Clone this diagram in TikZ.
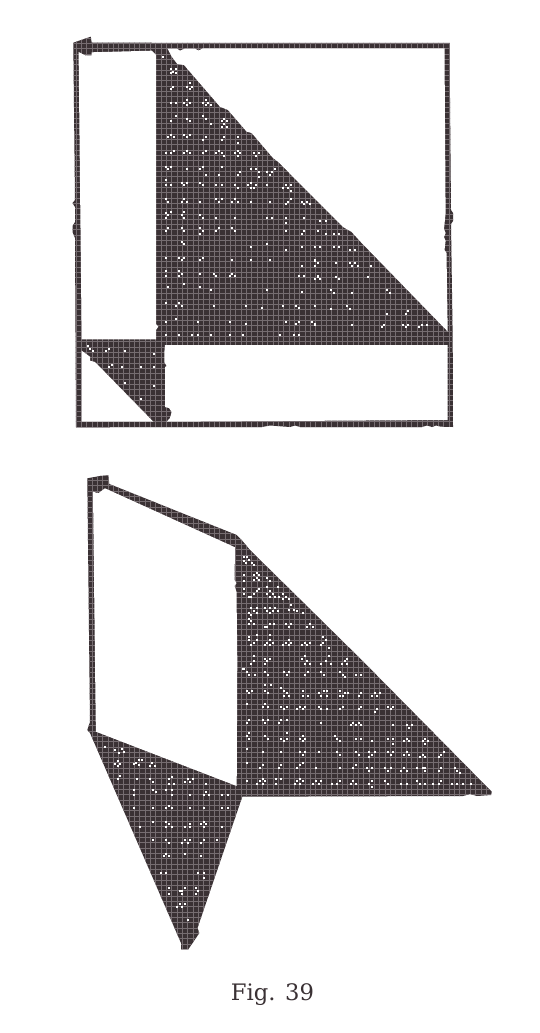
\documentclass[tikz,border=0pt]{standalone}
\usepackage{fontspec}
\setmainfont{DejaVu Serif}
\usepackage{xcolor}
\definecolor{inkdark}{RGB}{58, 49, 52}
\definecolor{inkgrid}{RGB}{118, 109, 113}
\usepackage{tikz}

\begin{document}
\begin{tikzpicture}[
    x=1pt, y=-1pt,
    inkfill/.style={fill=inkdark},
    gridline/.style={draw=inkgrid, line width=0.6pt, step=5.33pt},
    holefill/.style={fill=white},
    speck/.style={fill=white},
    speckcrop/.style n args={2}{shift={(#1,#2)}, x=0.3333pt, y=-0.3333pt},
    figlabel/.style={font=\fontsize{22.7}{24}\selectfont, text=inkdark, inner sep=0pt}
  ]
    \useasboundingbox (0,0) rectangle (540,1033);

    % upper figure
    \begin{scope}
    \clip (73.3,42.7) -- (90.7,36.7) -- (91.7,42.7) -- (449.5,43) -- (451,210) -- (453,213) -- (453,221) -- (451,224) -- (452.7,340) -- (453,427)
      -- (441,426.7) -- (436,425.5) -- (432,427) -- (427,425.5) -- (422,427) -- (300,427) -- (295,425.5) -- (290,427) -- (270,425.5) -- (262,427) -- (76,427.3)
      -- (75,238) -- (72.5,232) -- (72.5,226) -- (75,222) -- (75,207) -- (72.5,203) -- (75,200) -- cycle;
    \fill[inkfill] (60,30) rectangle (470,440);
    \draw[gridline, shift={(1.2,0.6)}] (60,30) grid (470,440);

    \foreach \x/\y in {39/21,
      63/58,77/58,70/65,63/70,77/70,
      70/110,63/118,119/100,111/110,127/110,119/118,
      63/158,79/158,111/150,103/158,119/158,111/166,159/158,167/150,175/158,183/166,167/166,
      79/198,63/214,111/206,119/214,159/198,167/206,183/222,223/206,215/214,231/214,215/230,231/230,223/222,
      55/262,63/254,71/262,103/254,119/254,111/262,167/262,159/270,223/262,215/270,263/262,263/278,
      47/310,63/310,71/302,103/310,111/302,119/310,159/310,167/302,199/310,207/302,215/310,223/318,255/310,263/302,271/310,263/318,311/310,327/310,319/318,
      47/350,55/358,63/350,111/358,151/358,159/350,167/374,215/350,207/374,263/374,271/366,303/358,319/358,327/366,327/382,351/366,359/374,367/366,375/358,
      47/390,47/406,63/406,95/398,111/398,103/406,151/398,159/406,199/406,215/406,255/406,263/414,303/398,295/406,311/414,303/414,319/406,351/406,399/414,407/406,423/406,415/414,423/422}
      \fill[speck, speckcrop={150}{50}] (\x,\y) +(-3.4,-3.4) rectangle +(3.4,3.4);

    \foreach \x/\y in {47/12,55/20,95/20,103/12,111/20,151/20,199/12,207/20,215/12,247/20,255/12,263/20,303/20,359/20,407/28,415/20,423/12,455/20,463/28,471/20,479/28,
      47/54,63/52,55/60,47/68,95/60,103/52,103/68,151/60,159/68,199/68,255/68,351/68,367/68,407/68,463/68,407/84,
      47/108,55/100,95/100,103/108,151/100,159/108,151/116,199/108,207/100,247/100,255/108,407/108,463/108,455/116,503/108,
      95/140,103/148,303/156,351/148,407/164,455/156,495/156,
      47/188,87/188,103/188,95/196,151/196,159/188,247/196,303/196,359/196,495/196,503/204,495/212,455/212,
      47/228,47/244,87/228,95/236,87/244,151/236,191/236,199/244,239/244,247/236,255/244,447/244,463/244,495/252,503/244,
      55/276,103/268,151/276,183/284,351/284,455/292,
      47/324,79/332,87/324,95/332,191/332,287/332,335/340,399/332,439/332,447/340,495/332,
      79/372,47/380,143/380,239/380,287/388,407/380,447/380,439/388,487/380,495/388,
      47/420,87/420,127/420,143/420,183/420,239/420,279/420,391/420,431/420,447/420}
      \fill[speck, speckcrop={150}{195}] (\x,\y) +(-3.4,-3.4) rectangle +(3.4,3.4);

    \foreach \x/\y in {31/122,47/122,23/154,47/162,71/162,87/162,15/202,31/202,71/202,87/202,119/210,135/210,
      15/242,23/250,15/258,79/250,119/250,135/250,127/258,143/258,183/258,
      23/290,15/298,31/298,79/290,87/298,175/290,
      63/330,71/338,127/338,231/330,239/338,
      15/378,63/386,111/378,119/386,231/402,295/394,287/402,
      7/426,15/434,127/434,223/434,215/442,279/434,295/434,287/442,335/434,351/434,327/442}
      \fill[speck, speckcrop={310}{180}] (\x,\y) +(-3.4,-3.4) rectangle +(3.4,3.4);

    \foreach \x/\y in {83/78,91/86,99/94,139/94,147/86,195/94,283/102,147/142,155/134,187/142,243/142,283/142,195/190,283/198,243/238}
      \fill[speck, speckcrop={60}{320}] (\x,\y) +(-3.4,-3.4) rectangle +(3.4,3.4);
    \end{scope}

    % openings of the upper figure
    \fill[holefill] (78.6,52) -- (85,55.3) -- (91.7,55.3) -- (91.7,52.3) -- (151.7,50.7) -- (156,55) -- (156,324) -- (158.3,326.7) -- (156,330) -- (156,339.3) -- (81.7,339.3) -- cycle;
    \fill[holefill] (167.5,48.6) -- (177,48.6) -- (180,50.6) -- (185,48.6) -- (195,48.6) -- (198.5,50.6) -- (203,48.3) -- (444.5,48.3) -- (445.6,213) -- (444,229) -- (445.6,233) -- (444,237) -- (445.6,241) -- (444.5,250) -- (446.5,253) -- (447.7,331.5)
      -- (361.7,243) -- (351.7,232) -- (343,227) -- (278,161.7) -- (273,158) -- (251.7,133) -- (246.7,131.7) -- (228,110) -- (220,106.7) -- (184,65) -- (177.3,64) -- (172,57) -- cycle;
    \fill[holefill] (165,345) -- (447.7,345) -- (447.7,420) -- (166.7,421.7) -- (170,418) -- (171.7,412) -- (169,408) -- (165,407) -- (165,367) -- (166.7,366) -- (164.3,362) -- (164.3,353) -- cycle;
    \fill[holefill] (81.7,350.7) -- (90,356.7) -- (90,360.7) -- (95,362) -- (153.3,421.7) -- (81.7,421.7) -- cycle;

    % lower figure
    \begin{scope}
    \clip (87.3,478.3) -- (100,476) -- (108.3,475.3) -- (109.3,484) -- (236.7,535) -- (241.7,540) -- (246.7,546) -- (250,550) -- (361.7,660) -- (491.7,791.7) -- (491,795) -- (477,796) -- (470,794) -- (463,796) -- (242.3,796.7)
      -- (197.5,928) -- (199.3,933) -- (196,938) -- (188.3,949.3) -- (181,949.3) -- (181,943) -- (90,733) -- (87.3,730) -- (90,722) -- cycle;
    \fill[inkfill] (70,460) rectangle (510,960);
    \draw[gridline, shift={(1.2,0.6)}] (70,460) grid (510,960);

    \foreach \x/\y in {58/50,66/50,56/62,72/60,64/70,80/68,88/75,
      95/98,87/106,103/106,95/114,87/120,103/120,57/106,57/124,127/114,135/124,
      57/146,57/162,103/146,95/154,87/162,79/170,71/170,127/140,159/140,135/154,127/162,143/162,135/170,151/170,161/170,175/162,183/170,191/178,175/178,
      199/196,191/210,207/210,215/212,233/220,79/204,95/204,87/212,71/218,95/220,79/226,119/204,135/204,151/204,127/212,143/212,135/220,159/212,
      71/236,79/244,71/252,87/252,119/260,135/252,147/252,127/260,183/252,199/252,191/260,247/260,255/252,263/260,
      71/292,95/284,71/300,87/308,95/300,79/316,135/284,135/300,127/308,143/308,119/316,135/316,191/300,183/308,199/308,175/316,191/316,239/308,255/308,247/316,231/316,295/292,303/300,295/308,287/316,311/324,
      87/348,87/364,79/372,135/356,119/356,127/364,119/372,239/348,231/356,247/364,255/372,239/372,311/348,303/364,287/372,319/372,367/356,359/364,351/372,367/372,55/386}
      \fill[speck, speckcrop={225}{540}] (\x,\y) +(-3.4,-3.4) rectangle +(3.4,3.4);

    \foreach \x/\y in {57/28,65/36,73/44,89/44,121/36,129/44,177/36,193/36,185/44,249/36,241/44,289/36,297/44,345/36,353/44,361/52,393/44,409/44,
      121/76,137/76,
      65/92,81/92,73/100,121/92,129/100,169/84,177/92,185/100,193/108,177/108,233/92,233/108,249/108,281/100,297/92,305/92,305/108,289/108,345/92,361/100,353/108,369/100,345/108,409/100,401/108,441/108,449/100,465/100,457/108,
      65/132,121/132,113/140,129/140,169/140,185/140,177/148,217/148,225/140,241/140,233/148,281/140,289/148,305/148,345/148,353/140,409/140,401/148,457/148,449/156,489/140,505/140,497/148,
      73/180,65/188,113/180,129/180,121/188,161/188,169/180,185/180,289/188,385/188,401/188,377/196,393/196,409/196,505/196,545/196,561/196,553/204,
      73/220,65/228,73/236,121/228,129/236,185/220,185/236,177/244,169/236,233/228,225/236,241/236,233/244,329/228,337/236,345/244,393/236,409/236,441/244,489/236,505/236,505/252,537/244,545/236,553/244,601/236,593/244,609/244,601/252,
      65/268,113/276,169/276,225/276,241/276,233/284,281/276,337/276,345/284,393/276,401/284,433/276,449/276,433/292,441/284,489/276,505/276,497/284,545/276,537/284,553/284,593/284,585/292,601/292,657/276,649/284,641/292,
      65/308,113/316,105/324,169/316,161/324,233/308,225/316,217/324,273/324,345/324,393/316,385/324,425/324,441/324,433/332,481/324,497/324,489/332,537/324,529/332,545/332,577/324,601/324,593/324,601/332,649/324,641/332,689/324,697/332,705/340,
      65/364,113/356,105/364,121/364,97/372,113/372,153/356,169/356,153/372,225/356,217/364,233/364,209/372,225/372,273/364,289/364,281/372,265/372,321/372,337/372,345/364,385/364,377/372,393/372,441/364,433/372,441/380,481/364,489/372,529/372,545/372,577/364,585/372,601/372,625/372,641/372,649/364,681/372,697/372,713/372,737/372}
      \fill[speck, speckcrop={225}{660}] (\x,\y) +(-3.4,-3.4) rectangle +(3.4,3.4);

    \foreach \x/\y in {104/80,135/90,155/88,147/98,163/96,143/122,135/132,151/132,143/138,207/120,215/120,199/128,191/132,207/136,247/128,239/138,255/138,
      151/168,143/178,200/177,240/177,248/185,305/170,297/178,297/193,313/193,289/209,305/209,353/177,369/177,345/185,361/185,409/193,409/215,401/225,417/225,
      193/209,193/225,249/209,257/217,305/225,361/225,457/225,473/225,
      193/265,249/265,297/257,289/265,305/265,361/265,401/265,457/265,473/265,
      249/305,209/321,289/305,297/313,289/321,305/321,361/313,345/321,361/321,401/305,393/313,409/313,401/321,457/321,
      249/361,289/361,297/369,345/361,337/369,353/369,361/361,401/361,393/369,441/361,
      289/401,281/409,297/409,345/401,393/409,
      273/458,289/458,385/458,401/458,401/473,
      297/505,297/521,337/513,345/505,329/513,337/521,377/505,385/513,377/521,
      345/553,329/553,321/561,337/561,353/601}
      \fill[speck, speckcrop={70}{720}] (\x,\y) +(-3.4,-3.4) rectangle +(3.4,3.4);
    \end{scope}

    % opening of the lower figure
    \fill[holefill] (93,491.7) -- (98.3,493.3) -- (105,488.3) -- (235,547.3) -- (234.5,580) -- (236.5,583) -- (234.5,586) -- (236.5,592) -- (237.3,660) -- (236.7,786) -- (96,731.7) -- (95.7,720) -- cycle;

    \node[figlabel, anchor=base] (figcaption) at (272.5,1000) {Fig. 39};
  \end{tikzpicture}
\end{document}
